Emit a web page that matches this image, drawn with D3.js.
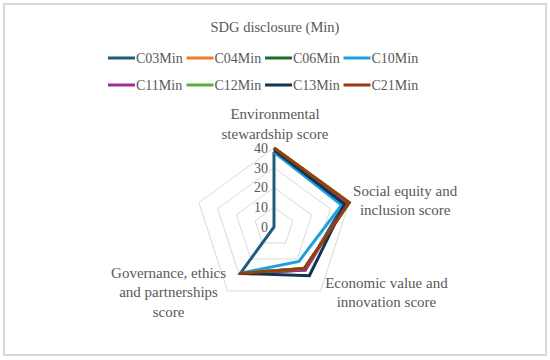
<!DOCTYPE html>
<html>
<head>
<meta charset="utf-8">
<script src="https://cdn.jsdelivr.net/npm/d3@7"></script>
<style>
  body { margin: 0; background: #fff; }
  text { font-family: "Liberation Serif", serif; fill: #595959; }
</style>
</head>
<body>
<svg id="chart" width="550" height="360"></svg>
<script>
// categories (5th spoke has no label)
const categories = [
    ["Environmental", "stewardship score"],
    ["Social equity and", "inclusion score"],
    ["Economic value and", "innovation score"],
    ["Governance, ethics", "and partnerships", "score"],
    [""]
];
const seriesNames = ["C03Min", "C04Min", "C06Min", "C10Min", "C11Min", "C12Min", "C13Min", "C21Min"];
const seriesColors = ["#1f5c7c", "#ed7d31", "#1e6b2c", "#1da1dc", "#a02b9c", "#5aaf3a", "#0f3550", "#9b3c0e"];

const c03 = [38, 37, 27, 29, 0];
const c04 = [40, 40, 26, 29, null];
const c06 = [40, 40, 26, 29, null];
const c10 = [38, 36, 21.5, 29, null];
const c11 = [40, 38.5, 27, 29, null];
const c12 = [40, 40, 26, 29, null];
const c13 = [39, 37.5, 30.5, 29, null];
const c21 = [40, 40, 26, 29, null];
const seriesValues = [c03, c04, c06, c10, c11, c12, c13, c21];

const ticks = [0, 10, 20, 30, 40];

let svg = d3.select("#chart");
let cx = 274, cy = 227;

// frame
svg.append("rect")
    .attr("x", 4).attr("y", 4)
    .attr("width", 542).attr("height", 351)
    .attr("fill", "#fff")
    .attr("stroke", "#d9d9d9")
    .attr("stroke-width", 2);

// title
svg.append("text")
    .attr("x", 275).attr("y", 32)
    .attr("text-anchor", "middle")
    .style("font-size", "14.5px")
    .text("SDG disclosure (Min)");

// legend
let legend = svg.append("g");
seriesNames.forEach((name, i) => {
    let col = i % 4, row = Math.floor(i / 4);
    let lg = legend.append("g")
        .attr("transform", `translate(${108 + col * 78.5},${58 + row * 27})`);
    lg.append("line")
        .attr("x1", 0).attr("x2", 27)
        .attr("stroke", seriesColors[i])
        .attr("stroke-width", 3);
    lg.append("text")
        .attr("x", 28).attr("dy", "0.35em")
        .style("font-size", "14px")
        .text(name);
});

let r = d3.scaleLinear().domain([0, 40]).range([0, 79]);
let angle = d3.scaleLinear().domain([0, categories.length]).range([0, 2 * Math.PI]);

let g = svg.append("g").attr("transform", `translate(${cx},${cy})`);

// grid rings
let ring = d3.lineRadial()
    .angle((d, i) => angle(i))
    .radius(d => r(d))
    .curve(d3.curveLinearClosed);

ticks.slice(1).forEach(t => {
    g.append("path")
        .attr("d", ring(categories.map(() => t)))
        .attr("fill", "none")
        .attr("stroke", "#d9d9d9")
        .attr("stroke-width", 1);
});

// tick labels
g.selectAll(".tick-label")
    .data(ticks)
    .join("text")
    .attr("class", "tick-label")
    .attr("x", -6)
    .attr("y", d => -r(d))
    .attr("dy", "0.35em")
    .attr("text-anchor", "end")
    .style("font-size", "14px")
    .text(d => d);

// series lines
let line = d3.lineRadial()
    .defined(d => d != null)
    .angle((d, i) => angle(i))
    .radius(d => r(d));

seriesValues.forEach((vals, i) => {
    g.append("path")
        .attr("d", line(vals.concat([vals[0]])))
        .attr("fill", "none")
        .attr("stroke", seriesColors[i])
        .attr("stroke-width", 3)
        .attr("stroke-linejoin", "miter");
});

// category labels (offset of first line from outer ring vertex)
const labelOffsets = [[1, -34], [56, -12], [66, -8], [-59, -18], [0, 0]];
categories.forEach((lines, i) => {
    let a = angle(i);
    let x = Math.sin(a) * r(40) + labelOffsets[i][0];
    let y = -Math.cos(a) * r(40) + labelOffsets[i][1];
    let t = g.append("text")
        .attr("text-anchor", "middle")
        .style("font-size", "15px");
    lines.forEach((s, j) => {
        t.append("tspan")
            .attr("x", x)
            .attr("y", y + j * 19.3)
            .attr("dy", "0.35em")
            .text(s);
    });
});
</script>
</body>
</html>
